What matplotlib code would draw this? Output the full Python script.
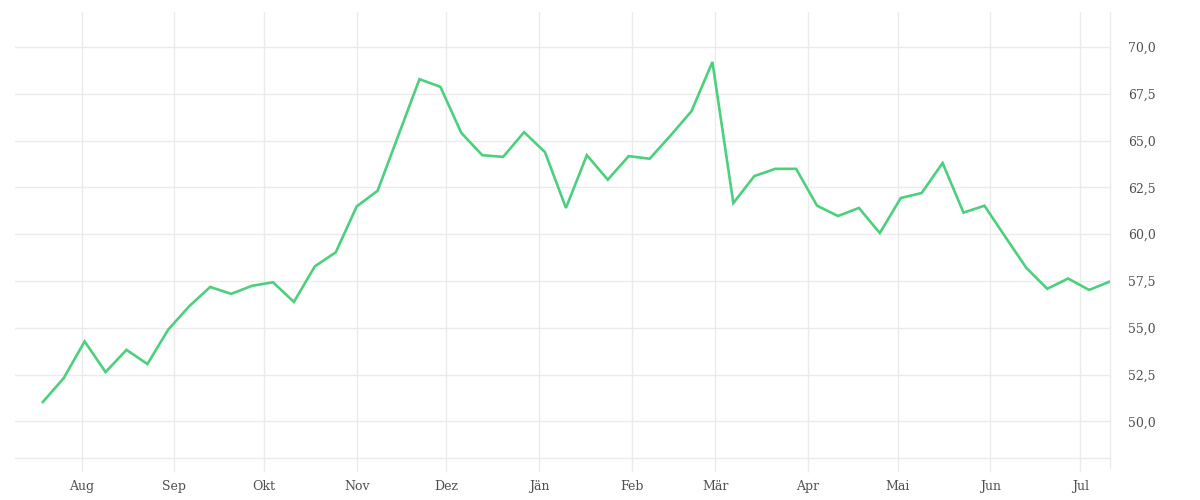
import matplotlib
matplotlib.use("Agg")
import matplotlib.pyplot as plt
import matplotlib.dates as mdates
import pandas as pd
import numpy as np

# ---- data ----
start_date = "2022-07-19"
values = [51.03, 52.31, 54.27, 52.63, 53.82, 53.06, 54.91, 56.15, 57.18, 56.81,
          57.24, 57.43, 56.38, 58.28, 59.03, 61.48, 62.32, 65.30, 68.28, 67.87,
          65.41, 64.22, 64.13, 65.45, 64.38, 61.40, 64.22, 62.91, 64.17, 64.03,
          65.27, 66.57, 69.20, 61.66, 63.10, 63.49, 63.49, 61.52, 60.97, 61.40,
          60.06, 61.93, 62.20, 63.80, 61.15, 61.52, 59.85, 58.20, 57.08, 57.63,
          57.02, 57.47]
month_labels = ["Aug", "Sep", "Okt", "Nov", "Dez", "Jän", "Feb", "Mär",
                "Apr", "Mai", "Jun", "Jul"]
y_ticks = [50.0, 52.5, 55.0, 57.5, 60.0, 62.5, 65.0, 67.5, 70.0]

dates = pd.date_range(start_date, periods=len(values), freq="7D")
month_ticks = pd.date_range("2022-08-01", periods=len(month_labels), freq="MS")

# ---- style ----
grid_c = "#ebebeb"
text_c = "#505050"
line_c = "#4cd07d"
font = ["DejaVu Serif"]

fig = plt.figure(figsize=(12, 5), dpi=100)
W, H = 1200, 500
ax = fig.add_axes([15 / W, (H - 458) / H, (1110 - 15) / W, (458 - 12) / H])

ax.plot(dates, values, color=line_c, lw=1.9, solid_joinstyle="miter", zorder=3)

ax.set_xlim(dates[0] - pd.Timedelta(days=9.3), dates[-1])
ax.set_ylim(48.04, 71.87)

ax.set_xticks(month_ticks)
ax.set_xticklabels(month_labels, family=font, fontsize=9, color=text_c)
ax.set_yticks(y_ticks)
ax.set_yticklabels([f"{v:.1f}".replace(".", ",") for v in y_ticks],
                   family=font, fontsize=9, color=text_c)

ax.yaxis.tick_right()
ax.tick_params(axis="y", length=0, pad=13)
ax.tick_params(axis="x", length=10, width=1, color=grid_c, pad=6)

ax.grid(True, color=grid_c, lw=1, zorder=0)
for s in ["left", "top", "right"]:
    ax.spines[s].set_visible(False)
ax.spines["bottom"].set_color(grid_c)
ax.spines["bottom"].set_linewidth(1)

# right boundary line extending below the plot like the ticks
ax.axvline(dates[-1], ymin=-10 / 446, ymax=1, color=grid_c, lw=1,
           clip_on=False, zorder=1)

fig.savefig("out.png", dpi=100, facecolor="white")
